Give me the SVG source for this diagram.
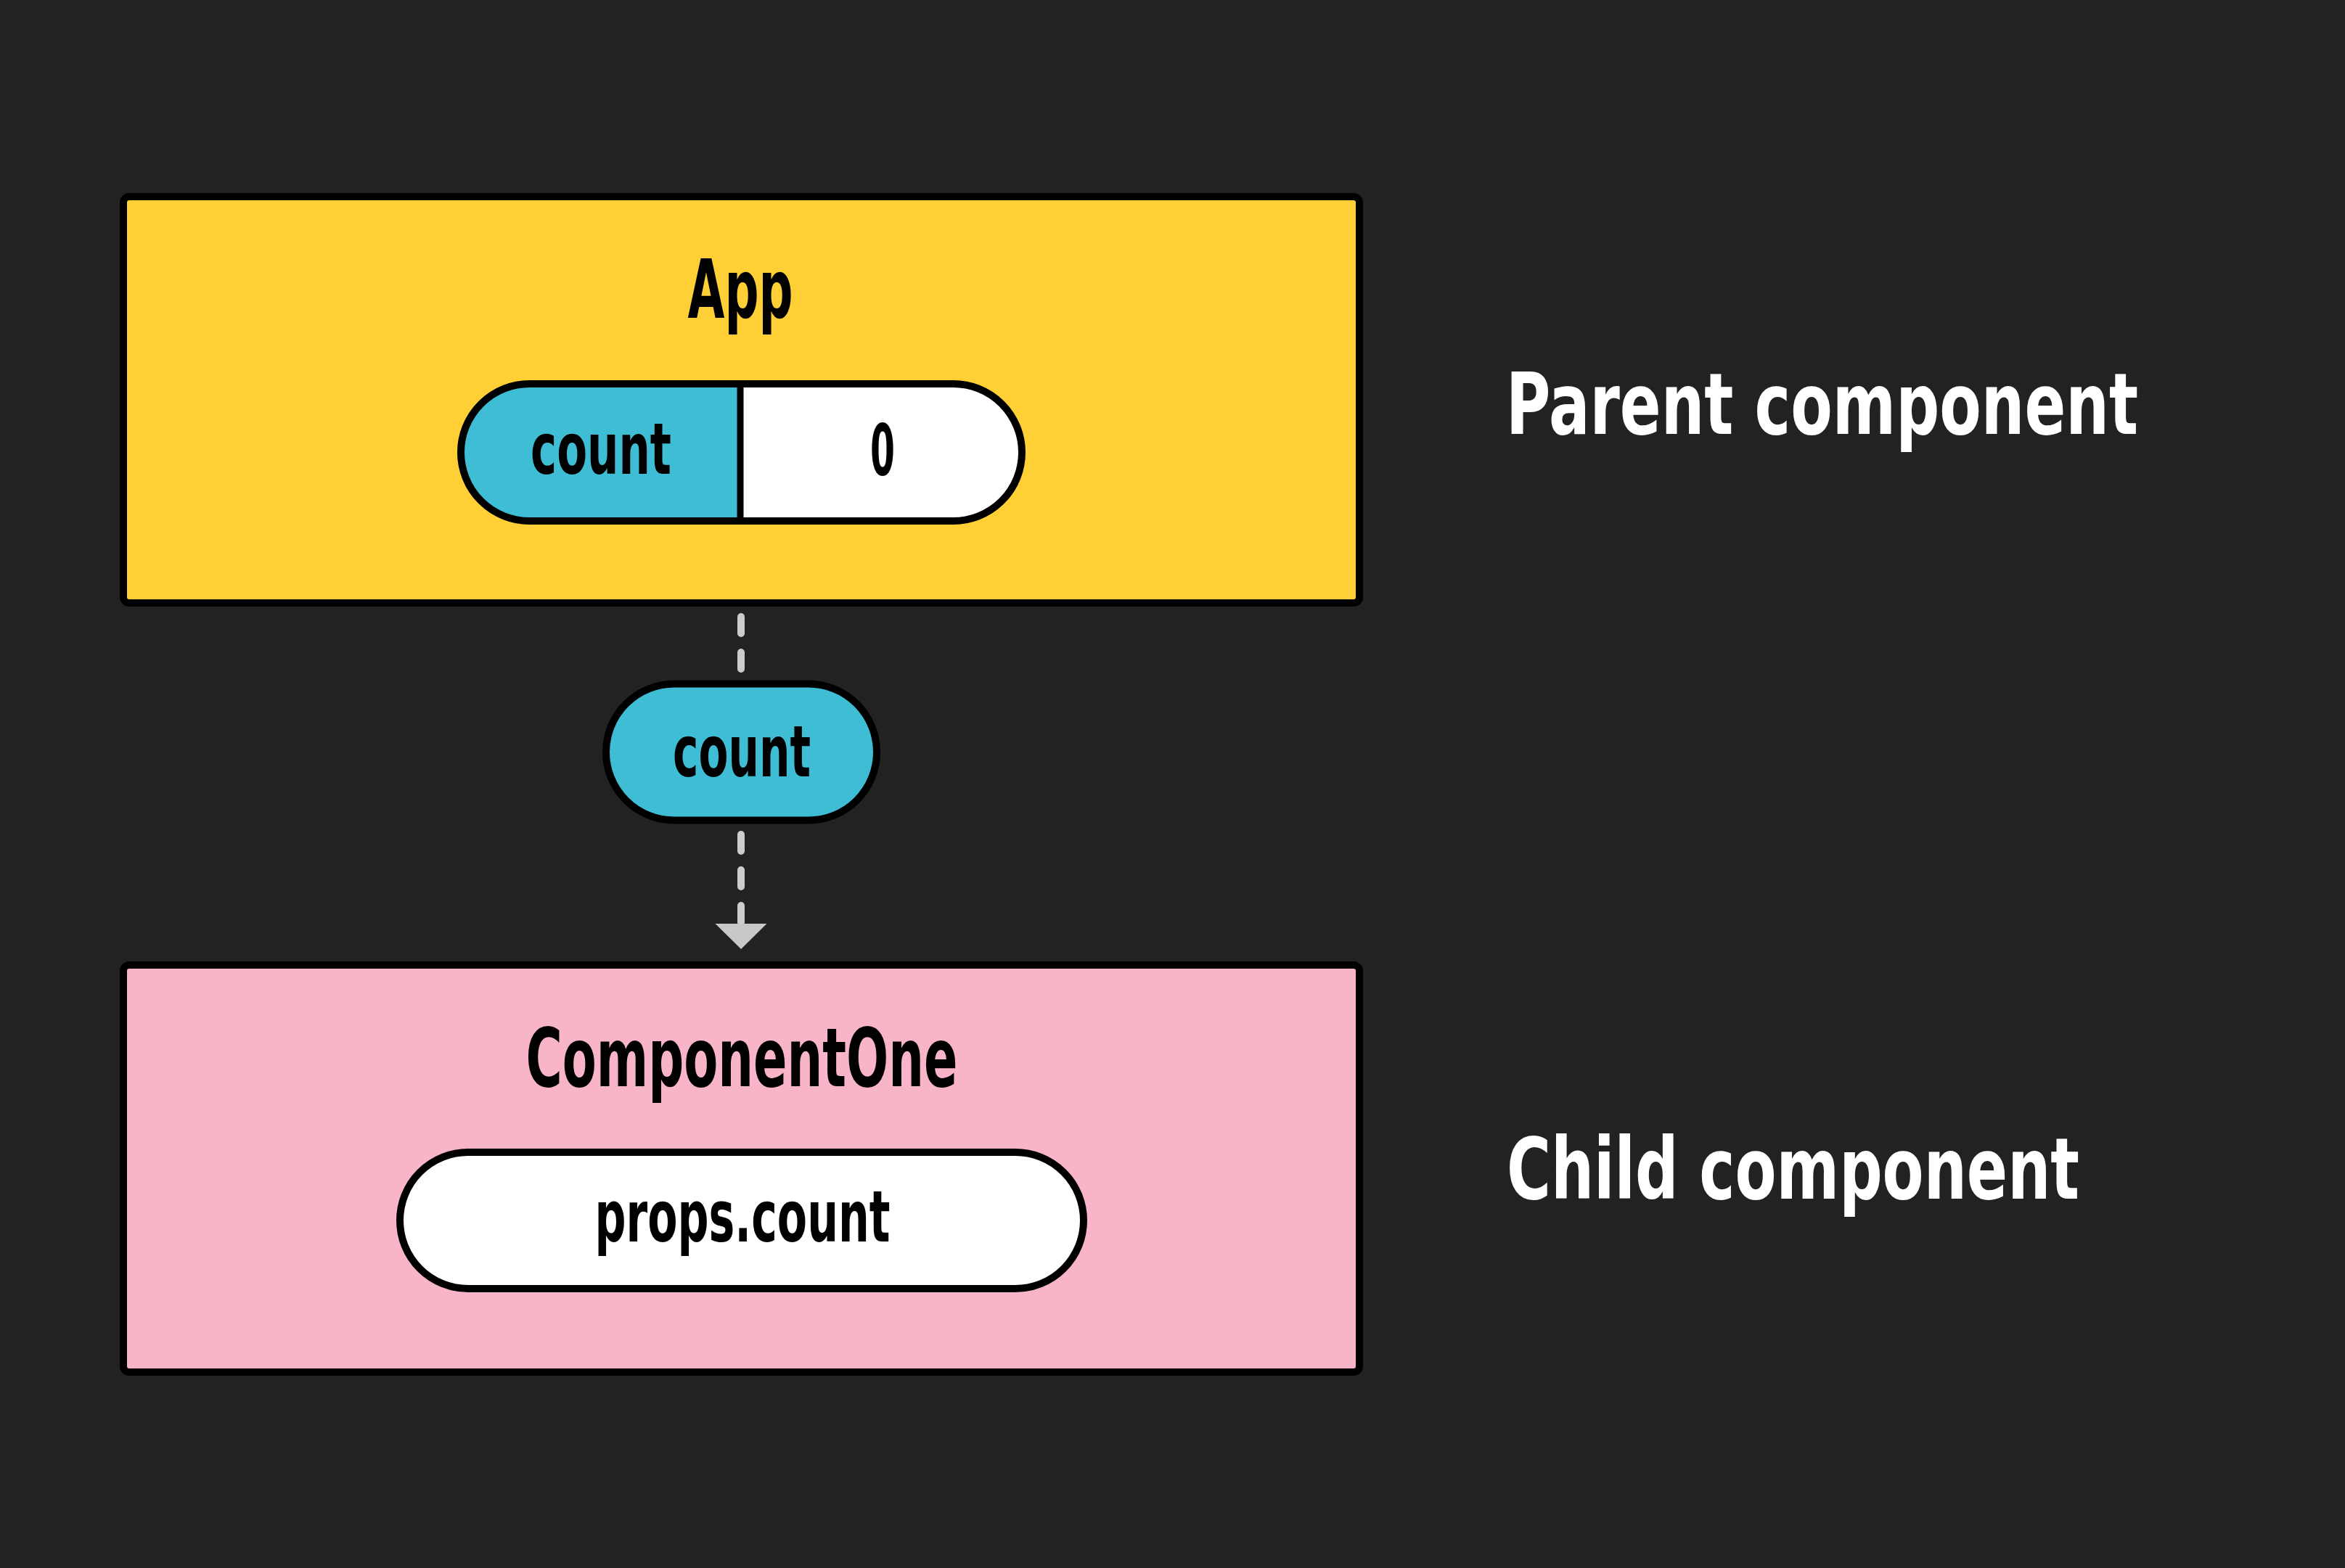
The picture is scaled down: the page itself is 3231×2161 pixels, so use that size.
<svg xmlns="http://www.w3.org/2000/svg" width="3231" height="2161" viewBox="0 0 3231 2161">
  <style>
    .t { font-family: "Liberation Sans Narrow", "DejaVu Sans Condensed", "Liberation Sans", sans-serif; font-weight: bold; text-anchor: middle; fill: #000; }
    .title { font-size: 112px; }
    .inner { font-size: 98px; }
    .label { font-family: "Liberation Sans Narrow", "DejaVu Sans Condensed", "Liberation Sans", sans-serif; font-weight: bold; font-size: 118px; fill: #fff; }
    .box { stroke: #000; stroke-width: 10; }
    .pill { stroke: #000; stroke-width: 10; }
    .dash { stroke: #cccccc; stroke-width: 10; stroke-linecap: round; stroke-dasharray: 23 26; fill: none; }
  </style>
  <defs>
    <marker id="arrow" markerUnits="userSpaceOnUse" viewBox="0 -36 36 72" markerWidth="36" markerHeight="72" refX="0" refY="0" orient="auto">
      <path d="M0,-35.5 L35,0 L0,35.5 Z" fill="#c8c8c8"/>
    </marker>
  </defs>
  <rect x="0" y="0" width="3231" height="2161" fill="#222222"/>

  <g id="connectors">
    <line class="dash" x1="1021" y1="850" x2="1021" y2="922"/>
    <line class="dash" x1="1021" y1="1150" x2="1021" y2="1273" marker-end="url(#arrow)"/>
  </g>

  <g id="app">
    <rect class="box" x="170" y="271" width="1703" height="560" rx="8" fill="#ffcf36"/>
    <text class="t title" x="1020" y="438" textLength="145" lengthAdjust="spacingAndGlyphs">App</text>
    <g id="app-state">
      <rect x="635" y="529" width="773" height="189" rx="94.5" fill="#ffffff"/>
      <path d="M1020,529 H729.5 A94.5,94.5 0 0 0 729.5,718 H1020 Z" fill="#3ebdd4"/>
      <line x1="1020" y1="529" x2="1020" y2="718" stroke="#000" stroke-width="9"/>
      <rect class="pill" x="635" y="529" width="773" height="189" rx="94.5" fill="none"/>
      <text class="t inner" x="828" y="653" textLength="194" lengthAdjust="spacingAndGlyphs">count</text>
      <text class="t inner" x="1216" y="655" textLength="34" lengthAdjust="spacingAndGlyphs">0</text>
    </g>
  </g>

  <g id="prop-count">
    <rect class="pill" x="835" y="942.5" width="373" height="188" rx="94" fill="#3ebdd4"/>
    <text class="t inner" x="1022" y="1070" textLength="190" lengthAdjust="spacingAndGlyphs">count</text>
  </g>

  <g id="componentone">
    <rect class="box" x="170" y="1330" width="1703" height="561" rx="8" fill="#f8b5c7"/>
    <text class="t title" x="1022" y="1497" textLength="595" lengthAdjust="spacingAndGlyphs">ComponentOne</text>
    <rect class="pill" x="551" y="1588" width="942" height="188" rx="94" fill="#ffffff"/>
    <text class="t inner" x="1023" y="1711" textLength="407" lengthAdjust="spacingAndGlyphs">props.count</text>
  </g>

  <g id="label-parent">
    <text class="label" x="2075" y="598" textLength="871" lengthAdjust="spacingAndGlyphs">Parent component</text>
  </g>
  <g id="label-child">
    <text class="label" x="2076" y="1652" textLength="789" lengthAdjust="spacingAndGlyphs">Child component</text>
  </g>
</svg>
